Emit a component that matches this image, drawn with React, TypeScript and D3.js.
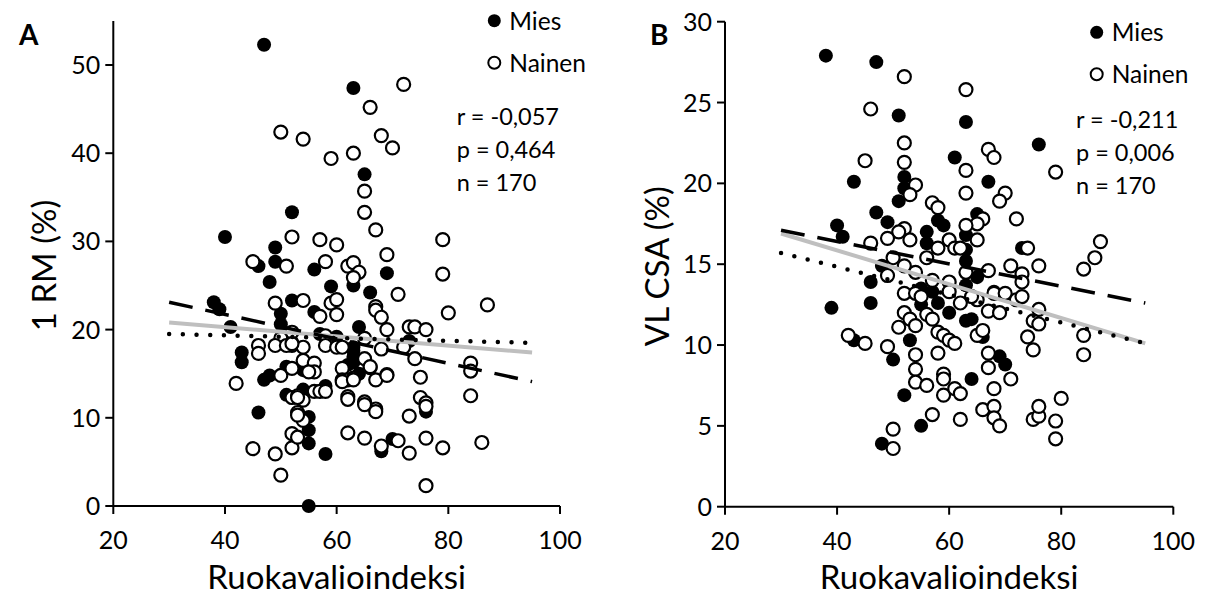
import React from "react";
import * as d3 from "d3";

// ---------- Data ----------
const xTicks = [20, 40, 60, 80, 100];
const yTicksA = [0, 10, 20, 30, 40, 50];
const yTicksB = [0, 5, 10, 15, 20, 25, 30];

// Panel A: 1 RM (%)
const miesA: [number, number][] = [
  [47,52.3],[63,47.4],[65,37.6],[52,33.3],[40,30.5],[49,29.3],[46,27.2],[49,27.7],[56,26.8],[63,25.0],
  [69,26.4],[48,25.4],[59,24.9],[66,24.2],[38,23.1],[39,22.3],[52,23.3],[56,22.0],[50,21.8],[50,20.6],
  [41,20.3],[64,20.3],[63,18.0],[63,16.9],[63,16.3],[73,18.7],[43,17.4],[43,16.3],[47,14.3],[48,14.8],
  [51,15.8],[54,15.4],[51,12.6],[55,10.1],[58,13.6],[76,10.7],[46,10.6],[55,8.6],[55,7.1],[58,5.9],
  [55,0],[68,6.2],[70,7.6],[63,17.6],[62,16.0],[64,15.0],[52,18.6],[57,19.5],[60,19.2],[54,13.2]
];
const nainenA: [number, number][] = [
  [72,47.8],[66,45.2],[50,42.4],[54,41.6],[68,42.0],[70,40.6],[63,40.0],[59,39.4],[65,35.7],[65,33.3],
  [67,31.3],[52,30.5],[57,30.2],[60,29.6],[79,30.2],[69,28.5],[45,27.7],[51,27.2],[58,27.7],[62,27.2],
  [63,27.6],[64,26.5],[63,25.9],[79,26.3],[71,24.0],[49,23.0],[54,23.3],[57,21.5],[59,23.0],[60,23.4],
  [60,21.7],[67,22.6],[67,22.2],[68,21.4],[69,20.0],[80,21.9],[87,22.8],[52,19.7],[50,19.0],[46,18.2],
  [46,17.3],[49,18.2],[52,18.2],[54,18.0],[58,19.3],[58,18.2],[60,18.0],[61,18.0],[65,19.0],[65,16.7],
  [68,17.8],[72,18.0],[73,20.3],[74,20.3],[76,20.0],[74,16.7],[75,14.6],[84,16.2],[84,15.3],[84,12.5],
  [42,13.9],[50,14.8],[52,15.6],[54,16.5],[56,16.2],[56,15.2],[55,15.2],[52,12.3],[53,12.5],[54,12.0],
  [53,10.6],[54,9.7],[56,13.0],[57,13.0],[58,13.0],[61,15.6],[61,14.3],[62,14.3],[63,14.5],[62,12.4],
  [65,11.8],[67,11.0],[66,15.7],[67,14.3],[69,14.9],[73,10.2],[75,12.3],[76,11.7],[76,11.3],[45,6.5],
  [49,5.9],[50,3.5],[52,8.2],[52,6.6],[53,7.8],[62,8.3],[65,7.7],[68,6.8],[71,7.4],[73,6.0],
  [76,7.7],[79,6.6],[86,7.2],[76,2.3],[51,18.2],[52,18.4],[53,12.3],[53,10.3],[62,12.1],[65,11.5],
  [67,10.7],[61,14.1],[63,14.3],[66,15.8],[69,14.8]
];

// Panel B: VL CSA (%)
const miesB: [number, number][] = [
  [38,27.9],[47,27.5],[51,24.2],[63,23.8],[76,22.4],[61,21.6],[43,20.1],[52,20.4],[52,19.7],[67,20.1],
  [51,18.9],[47,18.2],[65,18.1],[49,17.6],[58,17.7],[59,17.4],[40,17.4],[41,16.7],[56,17.0],[56,16.3],
  [63,16.8],[63,15.9],[73,16.0],[63,15.2],[65,14.2],[46,13.9],[48,14.9],[39,12.3],[46,12.6],[55,12.5],
  [58,12.6],[60,12.0],[63,11.5],[64,11.6],[66,10.5],[43,10.3],[50,9.1],[53,10.3],[64,7.9],[69,9.3],
  [70,8.8],[52,6.9],[55,5.0],[48,3.9],[55,13.5],[68,13.3],[63,13.7],[57,13.3]
];
const nainenB: [number, number][] = [
  [52,26.6],[63,25.8],[46,24.6],[52,22.5],[52,21.3],[45,21.4],[67,22.1],[68,21.6],[63,20.8],[79,20.7],
  [54,19.9],[53,19.3],[63,19.4],[70,19.4],[69,18.9],[57,18.8],[58,18.5],[66,17.8],[65,17.5],[72,17.8],
  [52,17.2],[51,17.0],[63,17.4],[46,16.3],[49,16.6],[53,16.5],[60,16.5],[61,16.0],[58,16.0],[62,16.0],
  [65,16.5],[74,16.0],[50,15.4],[56,15.4],[52,14.9],[54,14.5],[71,14.9],[76,14.9],[73,14.4],[73,13.9],
  [67,14.6],[63,14.5],[84,14.7],[86,15.4],[87,16.4],[49,14.3],[60,13.9],[52,13.2],[54,13.2],[60,13.3],
  [62,12.6],[52,12.0],[53,11.6],[54,11.2],[56,11.9],[57,11.6],[65,12.8],[67,12.1],[69,12.0],[68,13.2],
  [72,12.8],[73,13.0],[76,12.2],[75,11.5],[76,11.3],[51,11.1],[58,10.8],[59,10.6],[60,10.3],[61,10.1],
  [65,10.6],[66,10.9],[74,10.5],[84,10.6],[84,9.4],[75,9.7],[42,10.6],[45,10.1],[49,9.9],[54,9.4],
  [54,8.5],[54,7.7],[56,7.5],[58,9.5],[59,8.2],[59,7.9],[59,6.9],[61,7.3],[62,7.0],[67,9.5],
  [67,8.6],[71,7.9],[68,7.3],[57,5.7],[62,5.4],[66,6.0],[68,6.2],[68,5.5],[69,5.0],[75,5.4],
  [76,5.6],[76,6.2],[80,6.7],[79,5.3],[79,4.2],[50,4.8],[50,3.6],[55,13.0],[57,14.0],[64,13.0],[70,13.2]
];

// Trend lines (x, y at line ends)
const trendMiesA: [number, number][] = [[30, 23.1], [95, 14.1]];
const trendNainenA: [number, number][] = [[30, 19.5], [95, 18.5]];
const trendAllA: [number, number][] = [[30, 20.8], [95, 17.4]];
const trendMiesB: [number, number][] = [[30, 17.1], [95, 12.6]];
const trendNainenB: [number, number][] = [[30, 15.7], [95, 10.1]];
const trendAllB: [number, number][] = [[30, 16.9], [95, 10.1]];

const statsA = ["r = -0,057", "p = 0,464", "n = 170"];
const statsB = ["r = -0,211", "p = 0,006", "n = 170"];
const legendLabels = ["Mies", "Nainen"];
const xTitle = "Ruokavalioindeksi";

const FONT = "Lato, 'Open Sans', sans-serif";

type PanelProps = {
  label: string;
  yTitle: string;
  x0: number; x1: number; y0: number; yTop: number;
  yMax: number; yTicks: number[];
  mies: [number, number][]; nainen: [number, number][];
  tMies: [number, number][]; tNainen: [number, number][]; tAll: [number, number][];
  stats: string[]; statsX: number; statsY: number;
  legX: number; legY: number;
  labelX: number; yTitleX: number;
};

function Panel(p: PanelProps) {
  const x = d3.scaleLinear().domain([20, 100]).range([p.x0, p.x1]);
  const y = d3.scaleLinear().domain([0, p.yMax]).range([p.y0, p.yTop]);
  const line = d3.line<[number, number]>().x(d => x(d[0])).y(d => y(d[1]));
  const r = 6.5;
  return (
    <g fontFamily={FONT}>
      {/* axes */}
      <line x1={p.x0} x2={p.x1} y1={p.y0} y2={p.y0} stroke="#000" strokeWidth={2} />
      <line x1={p.x0} x2={p.x0} y1={p.y0} y2={p.yTop} stroke="#000" strokeWidth={2} />
      {xTicks.map(t => (
        <g key={"xt" + t}>
          <line x1={x(t)} x2={x(t)} y1={p.y0} y2={p.y0 + 8} stroke="#000" strokeWidth={2} />
          <text x={x(t)} y={p.y0 + 43} textAnchor="middle" fontSize={25} fill="#000">{t}</text>
        </g>
      ))}
      {p.yTicks.map(t => (
        <g key={"yt" + t}>
          <line x1={p.x0 - 8} x2={p.x0} y1={y(t)} y2={y(t)} stroke="#000" strokeWidth={2} />
          <text x={p.x0 - 13} y={y(t)} dy="0.36em" textAnchor="end" fontSize={25} fill="#000">{t}</text>
        </g>
      ))}
      {/* points */}
      {p.mies.map((d, i) => (
        <circle key={"m" + i} cx={x(d[0])} cy={y(d[1])} r={r + 0.5} fill="#000" />
      ))}
      {p.nainen.map((d, i) => (
        <circle key={"n" + i} cx={x(d[0])} cy={y(d[1])} r={r} fill="#fff" stroke="#000" strokeWidth={2.2} />
      ))}
      {/* trend lines */}
      <path d={line(p.tAll) || ""} stroke="#BFBFBF" strokeWidth={4} fill="none" />
      <path d={line(p.tMies) || ""} stroke="#000" strokeWidth={3.5} strokeDasharray="24 13" fill="none" />
      <path d={line(p.tNainen) || ""} stroke="#000" strokeWidth={4.5} strokeDasharray="0 13.7" strokeLinecap="round" fill="none" />
      {/* stats */}
      {p.stats.map((s, i) => (
        <text key={"s" + i} x={p.statsX} y={p.statsY + i * 33} dy="0.36em" fontSize={23.5} fill="#000">{s}</text>
      ))}
      {/* legend */}
      <circle cx={p.legX} cy={p.legY} r={6.5} fill="#000" />
      <text x={p.legX + 15} y={p.legY} dy="0.36em" fontSize={24.5} fill="#000">{legendLabels[0]}</text>
      <circle cx={p.legX} cy={p.legY + 42} r={6} fill="#fff" stroke="#000" strokeWidth={2} />
      <text x={p.legX + 15} y={p.legY + 42} dy="0.36em" fontSize={24.5} fill="#000">{legendLabels[1]}</text>
      {/* titles */}
      <text x={(p.x0 + p.x1) / 2} y={589} textAnchor="middle" fontSize={33} fill="#000">{xTitle}</text>
      <text transform={`translate(${p.yTitleX},${(p.y0 + p.yTop) / 2 + 2}) rotate(-90)`} textAnchor="middle" fontSize={33} fill="#000">{p.yTitle}</text>
      <text x={p.labelX} y={45} fontSize={28} fontWeight="bold" fill="#000">{p.label}</text>
    </g>
  );
}

export default function App() {
  return (
    <svg width={1205} height={597} style={{ position: "absolute", left: 0, top: 0, background: "#fff" }}>
      <rect width={1205} height={597} fill="#fff" />
      <Panel label="A" yTitle="1 RM (%)" x0={113.3} x1={560} y0={506} yTop={506 - 55 * 8.82} yMax={55} yTicks={yTicksA}
        mies={miesA} nainen={nainenA} tMies={trendMiesA} tNainen={trendNainenA} tAll={trendAllA}
        stats={statsA} statsX={456.7} statsY={117} legX={494.3} legY={20.7} labelX={19} yTitleX={56} />
      <Panel label="B" yTitle="VL CSA (%)" x0={725} x1={1173.3} y0={506.7} yTop={21.7} yMax={30} yTicks={yTicksB}
        mies={miesB} nainen={nainenB} tMies={trendMiesB} tNainen={trendNainenB} tAll={trendAllB}
        stats={statsB} statsX={1076} statsY={120} legX={1096.7} legY={32.3} labelX={650} yTitleX={669} />
    </svg>
  );
}
